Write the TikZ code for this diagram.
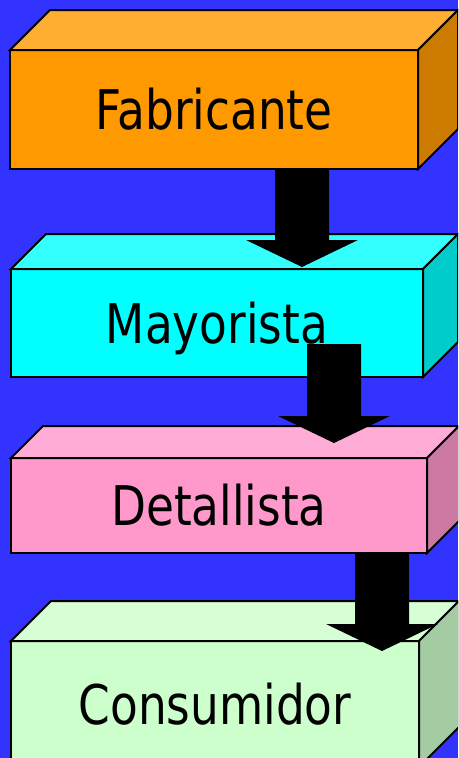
\documentclass[tikz,border=0pt]{standalone}
\usepackage{fontspec}
\setmainfont{DejaVu Sans}[FakeStretch=0.83]
\usetikzlibrary{positioning,calc}
\definecolor{fondo}{RGB}{51,51,255}
\definecolor{naranja}{RGB}{255,153,0}
\definecolor{naranjatop}{RGB}{255,173,51}
\definecolor{naranjalado}{RGB}{204,122,0}
\definecolor{cian}{RGB}{0,255,255}
\definecolor{ciantop}{RGB}{51,255,255}
\definecolor{cianlado}{RGB}{0,204,204}
\definecolor{rosa}{RGB}{255,153,204}
\definecolor{rosatop}{RGB}{255,173,214}
\definecolor{rosalado}{RGB}{204,122,163}
\definecolor{verde}{RGB}{204,255,204}
\definecolor{verdetop}{RGB}{214,255,214}
\definecolor{verdelado}{RGB}{163,204,163}

\tikzset{
  frente/.style={draw=black,line width=1.5pt,inner sep=0pt,outer sep=0pt,
    anchor=north west,text height=30pt,text depth=0pt,
    font=\fontsize{41}{48}\selectfont},
  cara/.style={draw=black,line width=1.5pt,line join=miter}
}

% caras superior y lateral de una caja
\newcommand{\caras}[4]{%
  \filldraw[cara,fill=#3] (#1.north west) -- ++(#2,-#2)
    -- ($(#1.north east)+(#2,-#2)$) -- (#1.north east) -- cycle;
  \filldraw[cara,fill=#4] (#1.north east) -- ++(#2,-#2)
    -- ($(#1.south east)+(#2,-#2)$) -- (#1.south east) -- cycle;}

% flecha gruesa hacia abajo
\newcommand{\flecha}[2]{%
  \fill[black] ($(#1)+(-27,0)$) -- ($(#2)+(-27,-27)$) -- ($(#2)+(-56,-27)$)
    -- (#2) -- ($(#2)+(56,-27)$) -- ($(#2)+(27,-27)$) -- ($(#1)+(27,0)$) -- cycle;}

\begin{document}
\begin{tikzpicture}[x=0.75pt,y=-0.75pt]
  \clip (0,0) rectangle (458,758);
  \fill[fondo] (0,0) rectangle (458,758);

  \node[frente,fill=naranja,minimum width=306pt,minimum height=89.25pt]
    (fab) at (10,50) {Fabricante};
  \caras{fab}{40}{naranjatop}{naranjalado}

  \node[frente,fill=cian,minimum width=309pt,minimum height=81pt]
    (may) at (11,269) {Mayorista};
  \caras{may}{35}{ciantop}{cianlado}

  \node[frente,fill=rosa,minimum width=312pt,minimum height=71.25pt]
    (det) at (11,458) {Detallista};
  \caras{det}{32}{rosatop}{rosalado}

  \node[frente,fill=verde,minimum width=306pt,minimum height=94.5pt]
    (con) at (11,641) {Consumidor};
  \caras{con}{40}{verdetop}{verdelado}

  % flechas
  \coordinate (f1a) at ($(fab.south west)+(292,0)$);
  \coordinate (f1b) at (302,267);
  \coordinate (f2a) at (334,344);
  \coordinate (f2b) at (334,443);
  \coordinate (f3a) at ($(det.south west)+(371,0)$);
  \coordinate (f3b) at (382,651);
  \flecha{f1a}{f1b}
  \flecha{f2a}{f2b}
  \flecha{f3a}{f3b}
\end{tikzpicture}
\end{document}
